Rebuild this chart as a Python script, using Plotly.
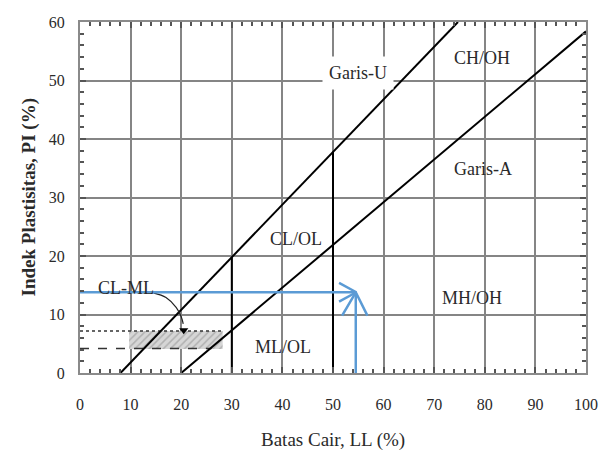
import plotly.graph_objects as go

# ---- data ----
U_LL = [8, 74.7]
U_PI = [0, 60]
A_LL = [20, 100]
A_PI = [0, 58.4]
V30_LL = [30, 30]
V30_PI = [0, 19.8]
V50_LL = [50, 50]
V50_PI = [0, 37.8]
ZONE_LL = [9.7, 28.2, 28.2, 9.7, 9.7]
ZONE_PI = [4.1, 4.1, 7.2, 7.2, 4.1]
DOT7_LL = [0, 28.2]
DOT7_PI = [7.2, 7.2]
DASH4_LL = [0, 26]
DASH4_PI = [4.2, 4.2]
CURVE_LL = [14.5, 17.0, 19.0, 20.0, 20.4]
CURVE_PI = [13.7, 12.9, 11.2, 9.6, 8.4]
TRI_LL = [20.5]
TRI_PI = [7.3]
BLUE_H_LL = [0, 54.6]
BLUE_H_PI = [13.8, 13.8]
BLUE_V_LL = [54.5, 54.5]
BLUE_V_PI = [0, 13.8]
CHEV_R_LL = [51.2, 54.6, 51.2]
CHEV_R_PI = [15.4, 13.8, 12.2]
CHEV_U_LL = [51.8, 54.5, 56.8]
CHEV_U_PI = [9.8, 13.8, 9.8]
LABELS = ["Garis-U", "CH/OH", "Garis-A", "CL/OL", "MH/OH", "ML/OL", "CL-ML"]
LABEL_LL = [55.0, 79.5, 79.7, 42.6, 77.4, 40.2, 9.0]
LABEL_PI = [51.2, 53.8, 34.8, 22.9, 12.9, 4.4, 14.5]
X_TICKS = list(range(0, 101, 10))
Y_TICKS = list(range(0, 61, 10))

BLUE = "#5b9bd5"
FONT = "Liberation Serif"
TXT = "#2a2a2a"

fig = go.Figure()

# shaded CL-ML zone
fig.add_trace(go.Scatter(x=ZONE_LL, y=ZONE_PI, fill="toself", mode="none",
                         fillcolor="#cfcfcf",
                         fillpattern=dict(shape="/", fgcolor="#8a8a8a", bgcolor="#d6d6d6", size=5, solidity=0.3),
                         hoverinfo="skip"))
fig.add_trace(go.Scatter(x=DOT7_LL, y=DOT7_PI, mode="lines",
                         line=dict(color="#333", width=1.5, dash="dot")))
fig.add_trace(go.Scatter(x=DASH4_LL, y=DASH4_PI, mode="lines",
                         line=dict(color="#333", width=1.5, dash="dash")))

for xs, ys in [(U_LL, U_PI), (A_LL, A_PI), (V30_LL, V30_PI), (V50_LL, V50_PI)]:
    fig.add_trace(go.Scatter(x=xs, y=ys, mode="lines", line=dict(color="black", width=2)))

fig.add_trace(go.Scatter(x=CURVE_LL, y=CURVE_PI, mode="lines", line=dict(color="#222", width=1.2, shape="spline")))
fig.add_trace(go.Scatter(x=TRI_LL, y=TRI_PI, mode="markers",
                         marker=dict(symbol="triangle-down", size=8, color="black")))

for xs, ys in [(BLUE_H_LL, BLUE_H_PI), (BLUE_V_LL, BLUE_V_PI), (CHEV_R_LL, CHEV_R_PI), (CHEV_U_LL, CHEV_U_PI)]:
    fig.add_trace(go.Scatter(x=xs, y=ys, mode="lines", line=dict(color=BLUE, width=2.5)))

for t, x, y in zip(LABELS, LABEL_LL, LABEL_PI):
    fig.add_annotation(x=x, y=y, text=t, showarrow=False,
                       font=dict(family=FONT, size=18, color=TXT),
                       bgcolor="white" if t == "Garis-U" else None,
                       borderpad=6 if t == "Garis-U" else 1)

axis_common = dict(showline=True, linecolor="#8a8a8a", linewidth=2, mirror="ticks",
                   ticks="inside", ticklen=6, tickcolor="#555", tickwidth=1.5,
                   showgrid=True, gridcolor="#858585", gridwidth=2, zeroline=False,
                   automargin=False,
                   tickfont=dict(family=FONT, size=16, color=TXT))

fig.update_xaxes(range=[0, 100], tickvals=X_TICKS, ticklabelstandoff=16, **axis_common,
                 minor=dict(dtick=2, ticks="inside", ticklen=4, tickcolor="#555", showgrid=False))
fig.update_yaxes(range=[0, 60], tickvals=Y_TICKS, ticklabelstandoff=10, **axis_common,
                 minor=dict(dtick=2, ticks="inside", ticklen=4, tickcolor="#555", showgrid=False))

fig.add_annotation(text="Batas Cair, LL (%)", xref="paper", yref="paper", x=0.5, y=-0.191,
                   showarrow=False, yanchor="middle", font=dict(family=FONT, size=19, color=TXT))
fig.add_annotation(text="<b>Indek Plastisitas, PI (%)</b>", xref="paper", yref="paper", x=-0.1008, y=0.5,
                   showarrow=False, textangle=-90, xanchor="center",
                   font=dict(family=FONT, size=19, color=TXT))

# page body adds an 8px offset, so the figure is sized to fit the 609x454 window
fig.update_layout(width=601, height=446, showlegend=False,
                  plot_bgcolor="white", paper_bgcolor="white",
                  margin=dict(l=72, r=23, t=14, b=81))

fig.write_html("out.html")
